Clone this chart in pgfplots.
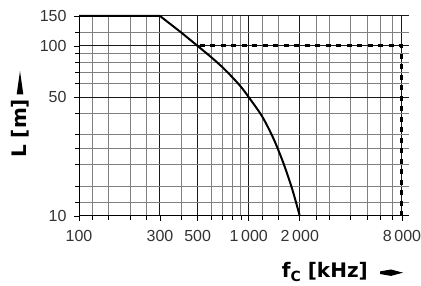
\documentclass[border=0pt]{standalone}
\usepackage{pgfplots}
\pgfplotsset{compat=1.18}
\usepackage{fontspec}
\setmainfont{Liberation Sans}
\newfontfamily\labfont{DejaVu Sans}
\begin{document}
\begin{tikzpicture}[x=1pt,y=1pt]
\useasboundingbox (-79,-70) rectangle (342,216);
\begin{axis}[
 at={(0,0)}, anchor=south west,
 scale only axis, width=330pt, height=200pt,
 xmode=log, ymode=log,
 xmin=100, xmax=8800, ymin=10, ymax=150,
 axis x line*=bottom, axis y line*=left,
 axis line style={black, line width=1pt, -},
 xtick={100,300,500,1000,2000,8000},
 xticklabels={100,300,500,1\,000,2\,000,8\,000},
 minor xtick={120,150,200,250,400,600,700,800,900,1200,1500,2500,3000,4000,5000,6000,7000},
 ytick={10,50,100,150},
 yticklabels={10,50,100,150},
 minor ytick={12,15,20,25,30,40,60,70,80,90,120},
 grid=both,
 major grid style={black!90, line width=1pt},
 minor grid style={black!50, line width=1pt},
 tick align=outside,
 major tick length=5pt, minor tick length=4pt,
 tick style={black, line width=0.8pt},
 ticklabel style={font=\fontsize{16}{18}\selectfont, text=black!80},
 xticklabel style={yshift=-6pt},
 yticklabel style={xshift=-4pt},
 clip=false,
]
\addplot[black, line width=2pt, line join=round] coordinates {(100,150)(300,150)(400,120)(500,100)};
\addplot[black, line width=2pt, smooth] coordinates {(500,100)(600,86)(700,75)(800,65.5)(900,57.5)(1000,50)(1200,38.5)(1400,28.5)(1600,20.5)(1800,14.5)(2000,10)};
\addplot[black, line width=3pt, dash pattern=on 5pt off 5.5pt] coordinates {(515,100)(8000,100)(8000,10)};
\end{axis}
\node[anchor=base east, inner sep=0pt, font=\labfont\bfseries\fontsize{20}{22}\selectfont] at (289,-61.3) {f\raisebox{-4pt}{\fontsize{14}{14}\selectfont C} [kHz]};
\fill[black] (301,-55.4) -- (312,-53.5) -- (324,-56.7) -- (312,-59.9) -- (301,-58.0) -- cycle;
\node[anchor=base west, rotate=90, inner sep=0pt, font=\labfont\bfseries\fontsize{20}{22}\selectfont] at (-52,58) {L [m]};
\fill[black] (-62.3,121.7) -- (-55.7,121.7) -- (-59,145) -- cycle;
\end{tikzpicture}
\end{document}
